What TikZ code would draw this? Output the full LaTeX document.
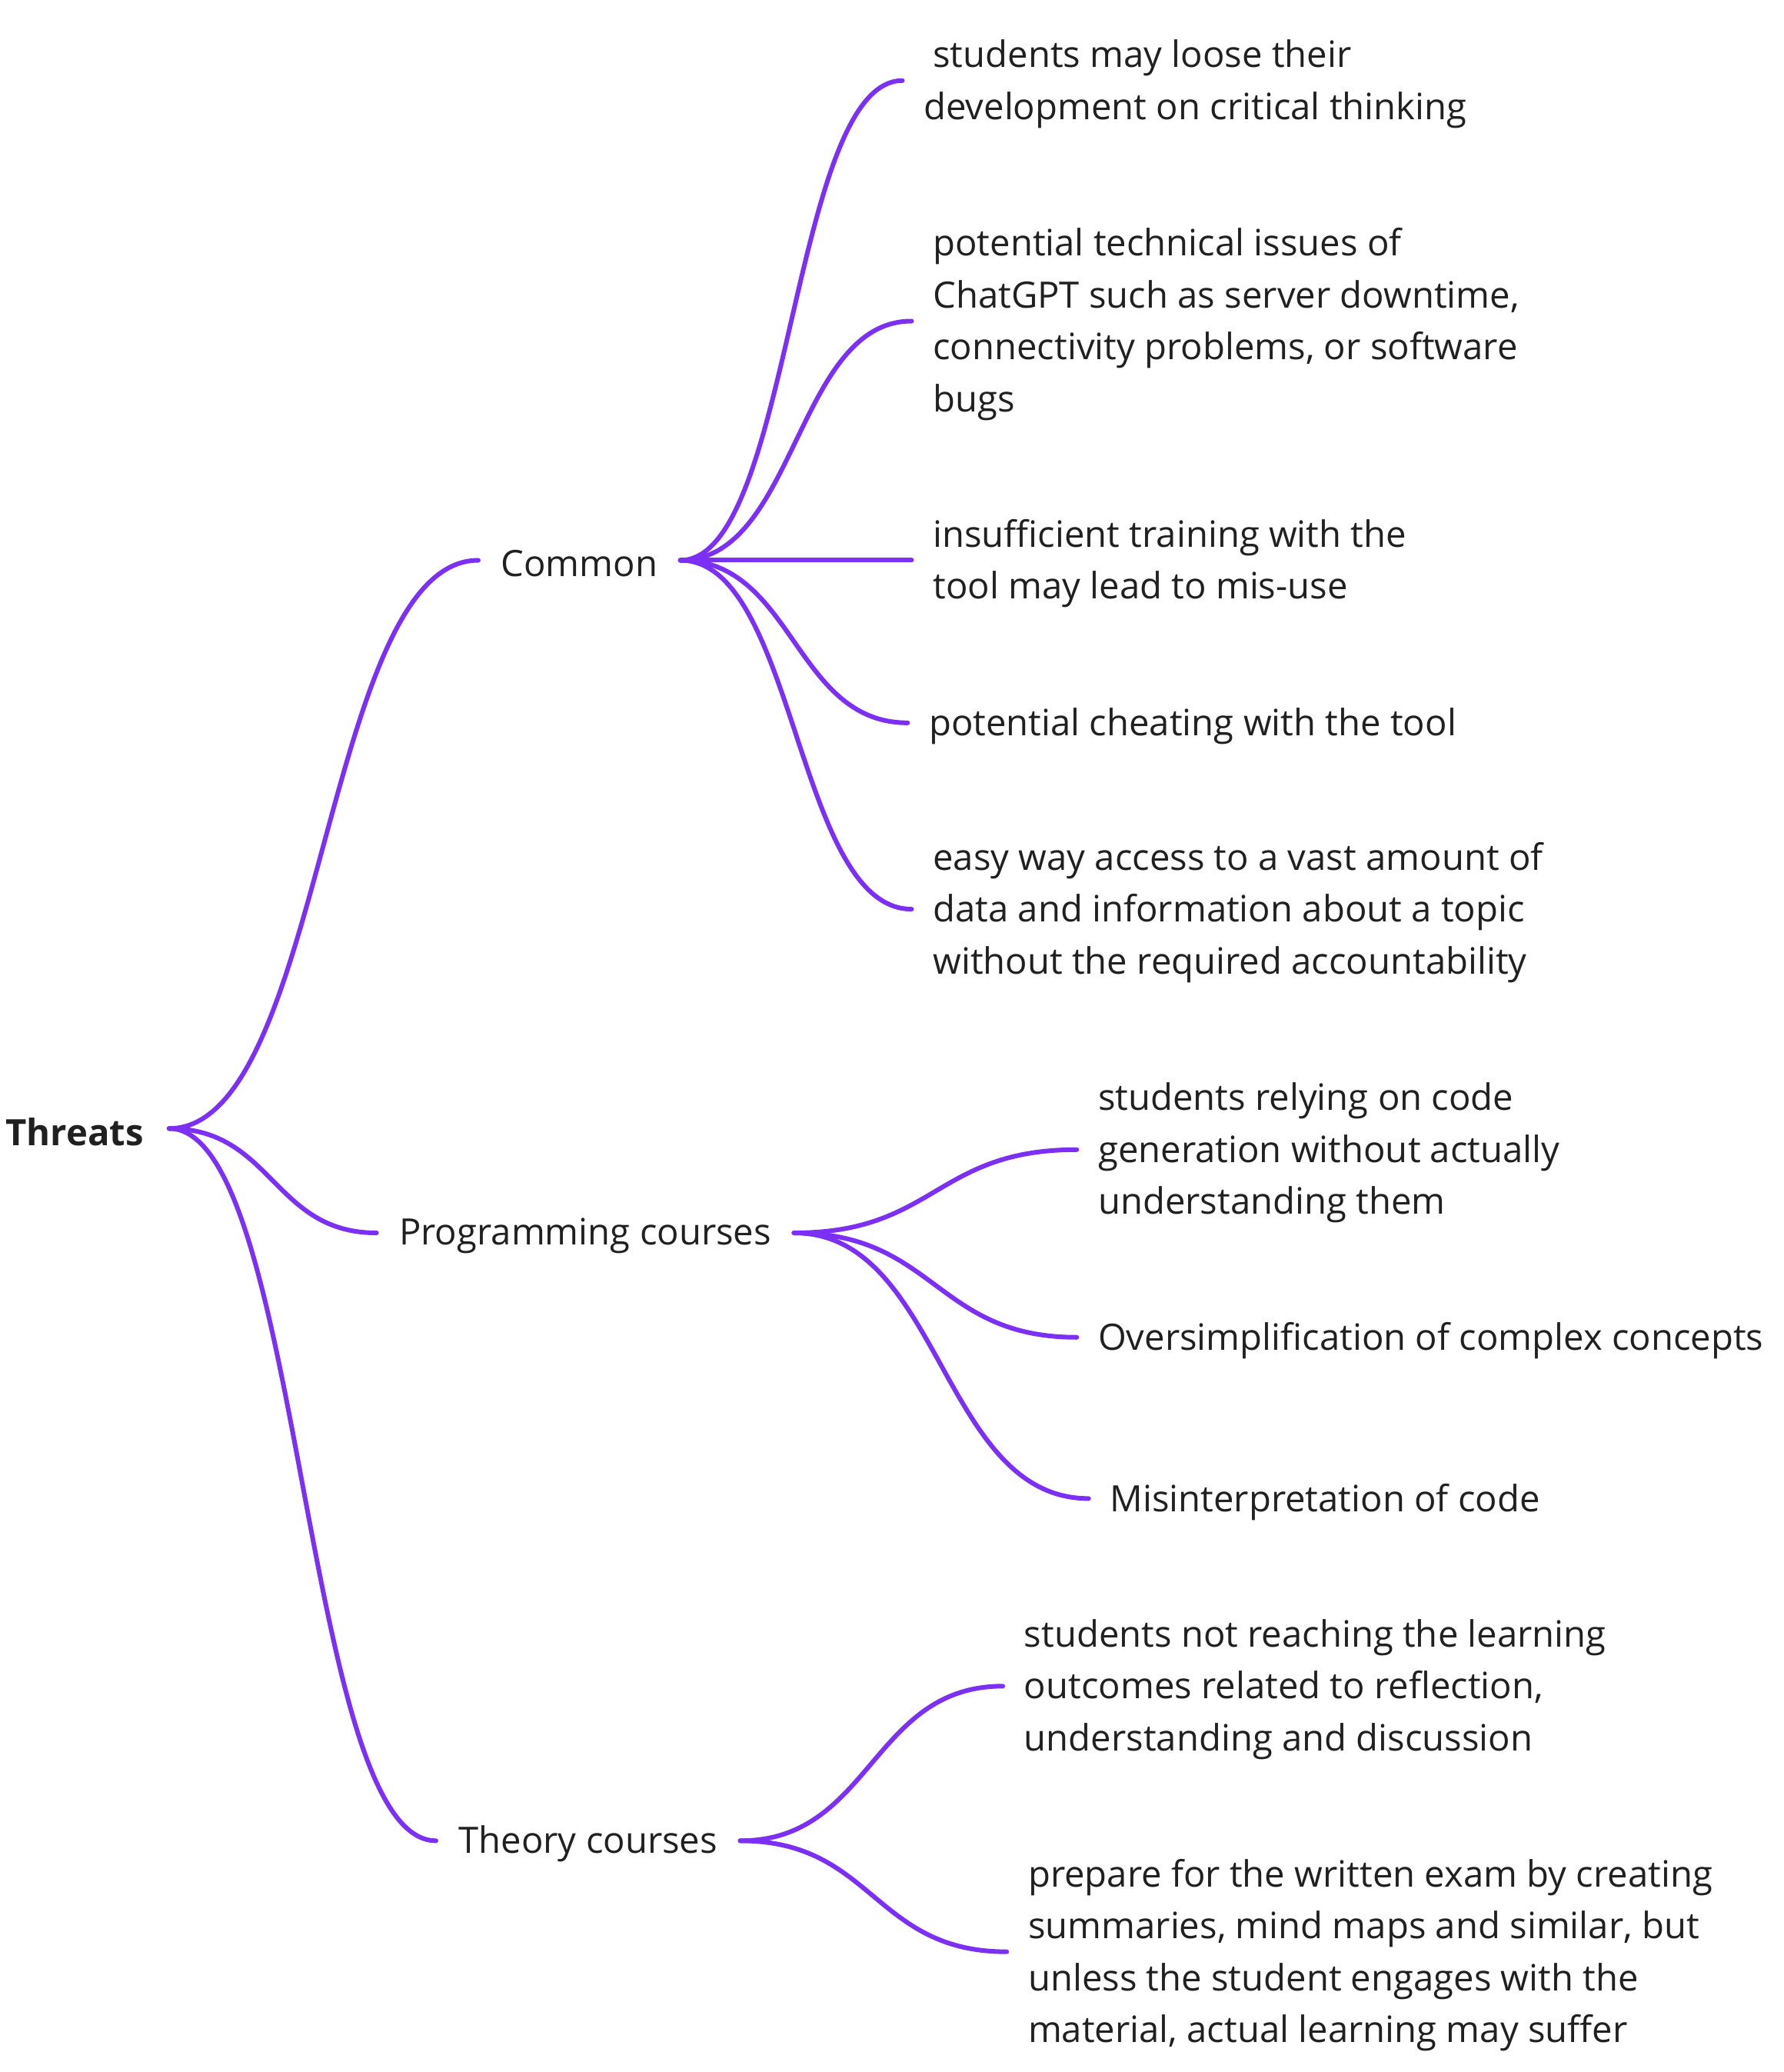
\documentclass[tikz,border=0pt]{standalone}
\usepackage{fontspec}
\setmainfont{Open Sans}
\usepackage{tikz}
\usetikzlibrary{calc}
\definecolor{branch}{RGB}{124,47,245}
\definecolor{ink}{RGB}{32,32,32}
\tikzset{
  words/.style={font=\fontsize{27.5}{39.3}\selectfont, text=ink, inner ysep=0pt, yshift=-2.5pt},
  leaf/.style={words, anchor=west, inner xsep=16pt, align=left},
  topic/.style={words, anchor=west, inner xsep=17pt},
  link/.style={draw=branch, line width=3.5pt, line cap=round},
}
% curve from the east side of one node to the west side of another
\newcommand{\twig}[2]{%
  \draw[link] let \p1=([yshift=2.5pt]#1.east), \p2=([yshift=2.5pt]#2.west) in
    (\p1) .. controls ({(\x1+\x2)/2},\y1) and ({(\x1+\x2)/2},\y2) .. (\p2);}

\begin{document}
\begin{tikzpicture}[x=1pt,y=-1pt]
    \useasboundingbox (0,0) rectangle (1350,1568);
    % Root and topics
    \node[words, anchor=east, inner xsep=19pt, font=\fontsize{27.5}{39.3}\selectfont\bfseries] (threats) at (128,854) {Threats};
    \node[topic] (common) at (362,424) {Common};
    \node[topic] (prog) at (285,933) {Programming courses};
    \node[topic] (theory) at (330,1393) {Theory courses};
    % Common
    \node[leaf] (thinking) at (683,61) {\kern7pt students may loose their\\development on critical thinking};
    \node[leaf] (issues) at (690,243) {potential technical issues of\\ChatGPT such as server downtime,\\connectivity problems, or software\\bugs};
    \node[leaf] (training) at (690,424) {insufficient training with the\\tool may lead to mis-use};
    \node[leaf] (cheating) at (687,547) {potential cheating with the tool};
    \node[leaf] (access) at (690,688) {easy way access to a vast amount of\\data and information about a topic\\without the required accountability};
    % Programming courses
    \node[leaf] (relying) at (815,870) {students relying on code\\generation without actually\\understanding them};
    \node[leaf] (oversimple) at (815,1012) {Oversimplification of complex concepts};
    \node[leaf] (misread) at (824,1134) {Misinterpretation of code};
    % Theory courses
    \node[leaf] (outcomes) at (759,1276) {students not reaching the learning\\outcomes related to reflection,\\understanding and discussion};
    \node[leaf] (exam) at (762,1477) {prepare for the written exam by creating\\summaries, mind maps and similar, but\\unless the student engages with the\\material, actual learning may suffer};
    % Draw the branches
    \twig{threats}{common}
    \twig{threats}{prog}
    \twig{threats}{theory}
    \twig{common}{thinking}
    \twig{common}{issues}
    \twig{common}{training}
    \twig{common}{cheating}
    \twig{common}{access}
    \twig{prog}{relying}
    \twig{prog}{oversimple}
    \twig{prog}{misread}
    \twig{theory}{outcomes}
    \twig{theory}{exam}
\end{tikzpicture}
\end{document}
